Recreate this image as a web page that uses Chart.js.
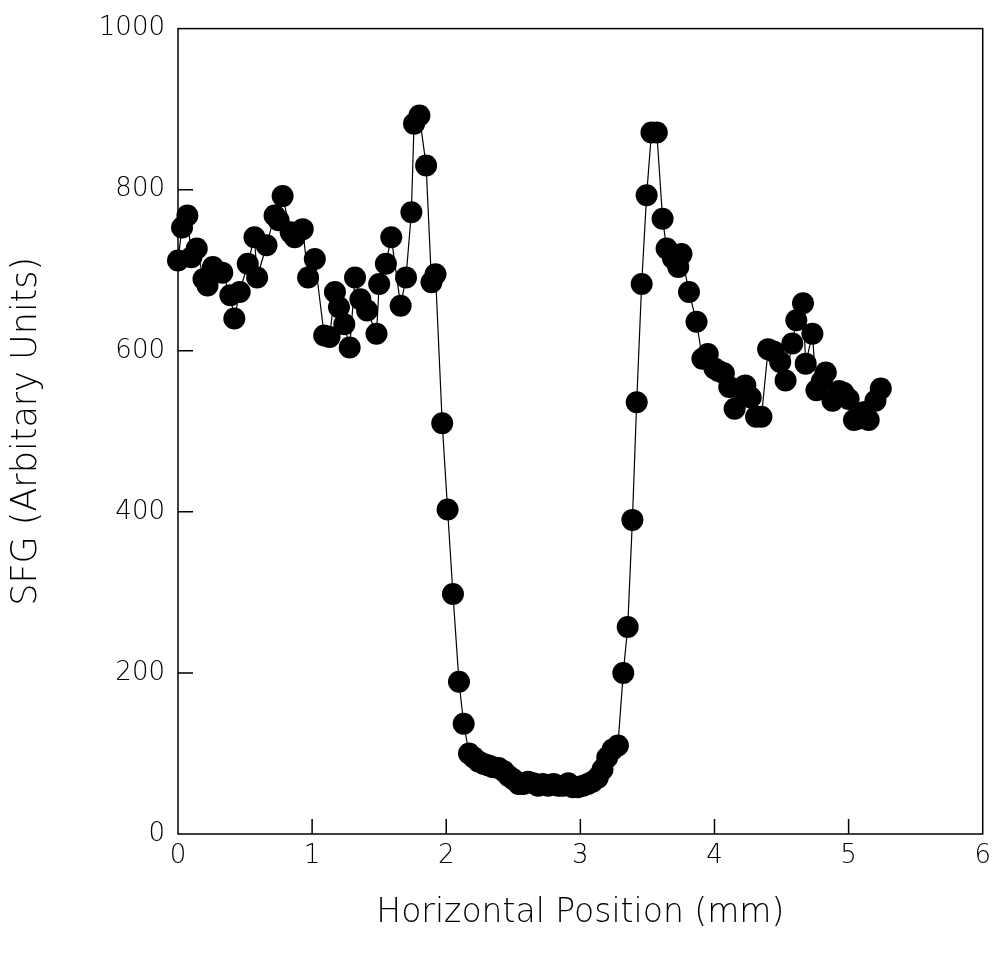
<!DOCTYPE html>
<html>
<head>
<meta charset="utf-8">
<title>SFG vs horizontal position</title>
<script src="https://cdn.jsdelivr.net/npm/chart.js@4.4.1/dist/chart.umd.min.js"></script>
<style>
  html, body { margin: 0; padding: 0; background: #fff; }
  #wrap { position: relative; width: 998px; height: 956px; }
</style>
</head>
<body>
<div id="wrap"><canvas id="chart-sfg"></canvas></div>
<script>
// horizontal position (mm)
const xPos = [
  0.00, 0.03, 0.07, 0.10, 0.14, 0.19, 0.22, 0.26, 0.33, 0.39,
  0.42, 0.46, 0.52, 0.57, 0.59, 0.66, 0.72, 0.75, 0.78, 0.84,
  0.87, 0.93, 0.97, 1.02, 1.09, 1.13, 1.17, 1.20, 1.24, 1.28,
  1.32, 1.36, 1.41, 1.48, 1.50, 1.55, 1.59, 1.66, 1.70, 1.74,
  1.76, 1.80, 1.85, 1.89, 1.92, 1.97, 2.01, 2.05, 2.095, 2.13,
  2.17, 2.205, 2.24, 2.28, 2.315, 2.35, 2.39, 2.43, 2.465, 2.50,
  2.54, 2.575, 2.61, 2.65, 2.685, 2.72, 2.76, 2.80, 2.835, 2.87,
  2.91, 2.945, 2.98, 3.02, 3.055, 3.09, 3.13, 3.165, 3.20, 3.24,
  3.28, 3.32, 3.353, 3.388, 3.42, 3.457, 3.494, 3.53, 3.57, 3.613,
  3.643, 3.69, 3.73, 3.754, 3.81, 3.866, 3.91, 3.95, 4.00, 4.03,
  4.07, 4.11, 4.15, 4.19, 4.23, 4.27, 4.31, 4.35, 4.40, 4.44,
  4.49, 4.53, 4.58, 4.61, 4.66, 4.68, 4.73, 4.76, 4.80, 4.83,
  4.88, 4.93, 4.96, 5.00, 5.04, 5.08, 5.12, 5.15, 5.20, 5.24
];

// SFG signal (arbitrary units)
const sfg = [
  712, 753, 768, 716, 727, 689, 681, 704, 697, 669,
  640, 673, 708, 741, 691, 731, 768, 762, 792, 747,
  741, 751, 691, 714, 619, 617, 673, 654, 633, 604,
  691, 664, 650, 621, 683, 708, 741, 656, 691, 772,
  882, 892, 830, 685, 695, 510, 403, 298, 189, 137,
  100, 95, 90, 87, 85, 83, 82, 78, 72, 68,
  62, 62, 65, 63, 60, 62, 60, 62, 60, 60,
  63, 58, 58, 60, 62, 65, 70, 80, 95, 105,
  110, 200, 257, 390, 536, 683, 793, 871, 871, 764,
  727, 715, 704, 720, 673, 636, 590, 596, 578, 575,
  572, 555, 528, 553, 557, 542, 518, 518, 602, 599,
  586, 563, 609, 638, 659, 584, 621, 551, 562, 573,
  538, 550, 548, 540, 514, 516, 524, 514, 538, 553
];

const xTicks = [0, 1, 2, 3, 4, 5, 6];
const yTicks = [0, 200, 400, 600, 800, 1000];

const FONT = '"DejaVu Sans", sans-serif';

// box round the plot and inward tick marks (bottom and left only, like the original)
const frameTicks = {
  id: "frameTicks",
  afterDraw(chart) {
    const { ctx, chartArea: a, scales } = chart;
    ctx.save();
    ctx.strokeStyle = "#000";
    ctx.lineWidth = 1.5;
    ctx.strokeRect(a.left, a.top, a.right - a.left, a.bottom - a.top);
    ctx.beginPath();
    xTicks.slice(1, -1).forEach((v) => {
      const px = scales.x.getPixelForValue(v);
      ctx.moveTo(px, a.bottom);
      ctx.lineTo(px, a.bottom - 15);
    });
    yTicks.slice(1, -1).forEach((v) => {
      const py = scales.y.getPixelForValue(v);
      ctx.moveTo(a.left, py);
      ctx.lineTo(a.left + 15, py);
    });
    ctx.stroke();
    ctx.restore();
  },
};

new Chart(document.getElementById("chart-sfg"), {
  type: "scatter",
  data: {
    datasets: [{
      data: xPos.map((x, i) => ({ x, y: sfg[i] })),
      showLine: true,
      clip: false,
      borderColor: "#000",
      borderWidth: 1.2,
      pointRadius: 11,
      pointHoverRadius: 11,
      pointBackgroundColor: "#000",
      pointBorderColor: "#000",
      pointBorderWidth: 0,
    }],
  },
  options: {
    responsive: true,
    maintainAspectRatio: false,
    animation: false,
    layout: { padding: { top: 28, right: 12, left: 0, bottom: 0 } },
    plugins: { legend: { display: false }, tooltip: { enabled: false } },
    scales: {
      x: {
        type: "linear",
        min: 0,
        max: 6,
        afterBuildTicks: (s) => { s.ticks = xTicks.map((v) => ({ value: v })); },
        afterFit: (s) => { s.height = 122; },
        grid: { display: false, drawTicks: false },
        border: { display: false },
        ticks: {
          color: "#000",
          padding: 7,
          font: { family: FONT, size: 26, weight: 300 },
          callback: (v) => String(v),
        },
        title: {
          display: true,
          text: "Horizontal Position (mm)",
          color: "#000",
          padding: { top: 0, bottom: 23 },
          font: { family: FONT, size: 33, weight: 300 },
        },
      },
      y: {
        type: "linear",
        min: 0,
        max: 1000,
        afterBuildTicks: (s) => { s.ticks = yTicks.map((v) => ({ value: v })); },
        afterFit: (s) => { s.width = 178; },
        grid: { display: false, drawTicks: false },
        border: { display: false },
        ticks: {
          color: "#000",
          padding: 13,
          font: { family: FONT, size: 26, weight: 300 },
          callback: (v) => String(v),
        },
        title: {
          display: true,
          text: "SFG (Arbitary Units)",
          color: "#000",
          padding: { top: 6, bottom: 0 },
          font: { family: FONT, size: 35, weight: 300 },
        },
      },
    },
  },
  plugins: [frameTicks],
});
</script>
</body>
</html>
